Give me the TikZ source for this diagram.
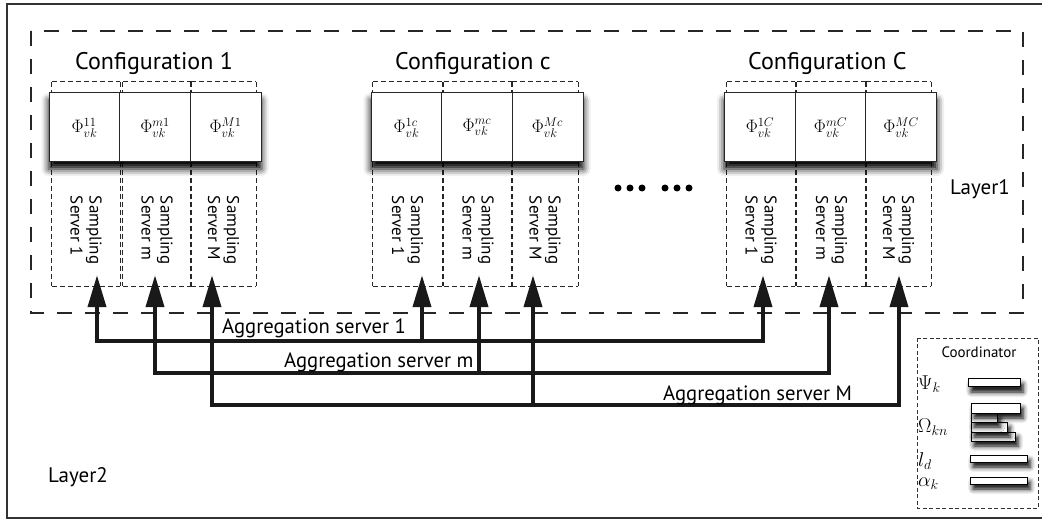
\RequirePackage{fix-cm}
\documentclass[tikz,border=0pt]{standalone}
\usepackage[no-math]{fontspec}
\setmainfont{PT Sans}
\usetikzlibrary{arrows.meta,shadows.blur,calc}
\newcommand\ssframe[1]{\draw[ssline] (#1.north west) -- (#1.north east) (#1.south west) -- (#1.south east) (#1.north west) -- (#1.south west) (#1.north east) -- (#1.south east);}
\begin{document}
\begin{tikzpicture}[x=1pt,y=-1pt,
  frame/.style={draw=black!80, line width=2.2pt},
  layerbox/.style={draw=black!85, line width=2.2pt, dash pattern=on 15pt off 13pt},
  ssarea/.style={minimum height=204pt, inner sep=0pt},
  ssline/.style={draw=black!85, line width=0.9pt, dash pattern=on 5pt off 3pt},
  phibox/.style={draw=black!85, fill=white, line width=1pt, minimum width=71pt, minimum height=69pt, inner sep=0pt, font=\fontsize{18}{21}\selectfont},
  phigroup/.style={fill=white, blur shadow={shadow xshift=0pt, shadow yshift=-7pt, shadow blur radius=7pt, shadow opacity=100}, minimum width=213pt, minimum height=69pt, inner sep=0pt},
  sstext/.style={rotate=-90, anchor=west, align=left, font=\fontsize{17}{19}\selectfont, inner sep=0pt},
  cfgtext/.style={anchor=base west, inner sep=0pt, font=\fontsize{24}{28}\selectfont},
  aggtext/.style={anchor=base west, inner sep=0pt, font=\fontsize{20.7}{24}\selectfont},
  layertext/.style={anchor=base west, inner sep=0pt, font=\fontsize{21}{24}\selectfont},
  agg/.style={line width=4pt, line join=miter, draw=black!90},
  tip/.style={-{Triangle[length=32pt,width=18pt]}},
  tips/.style={{Triangle[length=32pt,width=18pt]}-{Triangle[length=32pt,width=18pt]}},
  dot/.style={circle, fill=black, inner sep=0pt, minimum size=7pt},
  coordbox/.style={draw=black!80, line width=0.8pt, dash pattern=on 4pt off 2.5pt, inner sep=0pt},
  bar/.style={draw=black, fill=white, line width=1pt, blur shadow={shadow xshift=3pt, shadow yshift=-5pt, shadow blur radius=5pt, shadow opacity=100}},
  cmath/.style={anchor=west, inner sep=0pt, font=\fontsize{20}{23}\selectfont}
]
\useasboundingbox (0,0) rectangle (1042,521);
% outer frame (Layer2)
\draw[frame] (7,4) rectangle (1046,518);
% Layer1 dashed box
\draw[layerbox] (31,31) rectangle (1023,313);
\node[layertext] (l1) at (950,195) {Layer1};
\node[layertext] (l2) at (48,482) {Layer2};

% configuration titles
\node[cfgtext] (t1) at (75,70) {Configuration 1};
\node[cfgtext] (tc) at (395,70) {Configuration c};
\node[cfgtext] (tC) at (748,70) {Configuration C};

% sampling server boxes
\node[ssarea, minimum width=68pt] (s11) at (86,184) {};
\node[ssarea, minimum width=68pt] (sm1) at (157,184) {};
\node[ssarea, minimum width=65pt] (sM1) at (223.5,184) {};
\node[ssarea, minimum width=69pt] (s1c) at (407.5,184) {};
\node[ssarea, minimum width=68pt] (smc) at (478,184) {};
\node[ssarea, minimum width=66pt] (sMc) at (545,184) {};
\node[ssarea, minimum width=68pt] (s1C) at (761,184) {};
\node[ssarea, minimum width=69pt] (smC) at (831.5,184) {};
\node[ssarea, minimum width=65pt] (sMC) at (898.5,184) {};
\foreach \n in {s11,sm1,sM1,s1c,smc,sMc,s1C,smC,sMC} {\ssframe{\n}}

\foreach \n/\t in {s11/Server 1, sm1/Server m, sM1/Server M, s1c/Server 1, smc/Server m, sMc/Server M, s1C/Server 1, smC/Server m, sMC/Server M}
  \node[sstext] at ($(\n.north)+(0,114)$) {Sampling\\\t};

% phi groups with shadow
\node[phigroup] (g1) at (155,127.5) {};
\node[phigroup] (gc) at (477,127.5) {};
\node[phigroup] (gC) at (830.5,127.5) {};
\node[phibox] (p11) at (84.5,127.5) {$\Phi^{11}_{vk}$};
\node[phibox] (pm1) at (155,127.5) {$\Phi^{m1}_{vk}$};
\node[phibox] (pM1) at (225.5,127.5) {$\Phi^{M1}_{vk}$};
\node[phibox] (p1c) at (406.5,127.5) {$\Phi^{1c}_{vk}$};
\node[phibox] (pmc) at (477,127.5) {$\Phi^{mc}_{vk}$};
\node[phibox] (pMc) at (547.5,127.5) {$\Phi^{Mc}_{vk}$};
\node[phibox] (p1C) at (760,127.5) {$\Phi^{1C}_{vk}$};
\node[phibox] (pmC) at (830.5,127.5) {$\Phi^{mC}_{vk}$};
\node[phibox] (pMC) at (901,127.5) {$\Phi^{MC}_{vk}$};

% dots
\foreach \x [count=\i] in {618,630,642,665,677,689}
  \node[dot] (d\i) at (\x,188) {};

% aggregation servers
\coordinate (a11) at (97,341);
\coordinate (a1c) at (422,341);
\coordinate (a1C) at (763,341);
\coordinate (am1) at (155,373);
\coordinate (amc) at (479,373);
\coordinate (amC) at (829,373);
\coordinate (aM1) at (212,405);
\coordinate (aMc) at (533,405);
\coordinate (aMC) at (899,405);

\draw[agg,tips] ($(a11 |- s11.south)+(0,-11)$) -- (a11) -- (a1C) -- ($(a1C |- s1C.south)+(0,-11)$);
\draw[agg,tip] (a1c) -- ($(a1c |- s1c.south)+(0,-11)$);
\draw[agg,tips] ($(am1 |- sm1.south)+(0,-11)$) -- (am1) -- (amC) -- ($(amC |- smC.south)+(0,-11)$);
\draw[agg,tip] (amc) -- ($(amc |- smc.south)+(0,-11)$);
\draw[agg,tips] ($(aM1 |- sM1.south)+(0,-11)$) -- (aM1) -- (aMC) -- ($(aMC |- sMC.south)+(0,-11)$);
\draw[agg,tip] (aMc) -- ($(aMc |- sMc.south)+(0,-11)$);

\node[aggtext] (ag1) at (222,334) {Aggregation server 1};
\node[aggtext] (agm) at (284,367) {Aggregation server m};
\node[aggtext] (agM) at (663,400) {Aggregation server M};

% coordinator
\draw[coordbox] (917,338) rectangle (1038,508);
\node[inner sep=0pt, font=\fontsize{15}{17}\selectfont] (ct) at (979,352) {Coordinator};
\node[cmath] (psi) at (918,384) {$\Psi_k$};
\node[cmath] (om) at (918,427) {$\Omega_{kn}$};
\node[cmath] (ld) at (918,461) {$l_d$};
\node[cmath] (al) at (918,484) {$\alpha_k$};
\draw[bar] (968,379) rectangle (1020,387);
\draw[bar] (971,432) rectangle (1015,441);
\draw[bar] (971,422) rectangle (1007,432);
\draw[bar] (971,413) rectangle (997,422);
\draw[bar] (971,403) rectangle (1020,413);
\draw[bar] (970,455) rectangle (1027,462);
\draw[bar] (970,477) rectangle (1027,484);
\end{tikzpicture}
\end{document}
